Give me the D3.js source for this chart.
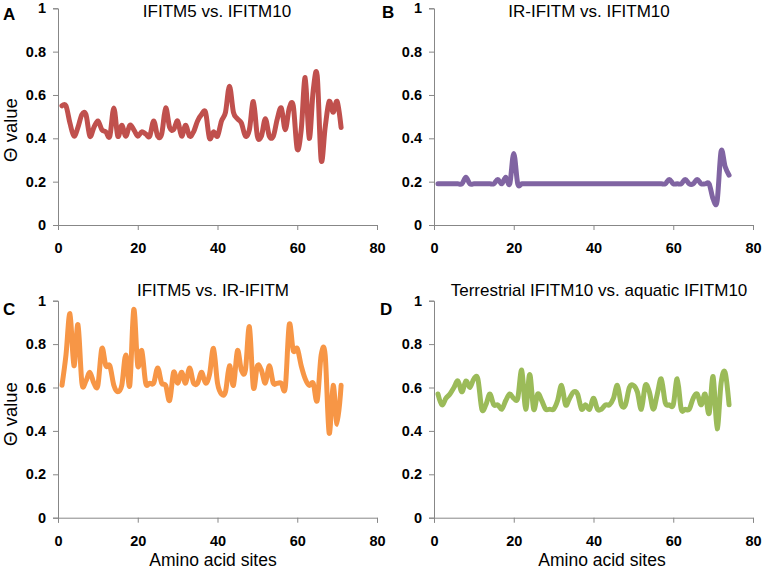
<!DOCTYPE html>
<html>
<head>
<meta charset="utf-8">
<script src="https://cdn.jsdelivr.net/npm/d3@7"></script>
<style>
  html, body { margin: 0; padding: 0; background: #fff; }
  svg { display: block; font-family: "Liberation Sans", Arial, sans-serif; }
</style>
</head>
<body>
<svg id="chart" width="764" height="571"></svg>
<script>
// ---- Data ----
const xTicks = [0, 20, 40, 60, 80];
const yTicks = [0, 0.2, 0.4, 0.6, 0.8, 1];
const yTickLabels = ["0", "0.2", "0.4", "0.6", "0.8", "1"];

const panelTitles = ["IFITM5 vs. IFITM10", "IR-IFITM vs. IFITM10", "IFITM5 vs. IR-IFITM", "Terrestrial IFITM10 vs. aquatic IFITM10"];
const panelLetters = ["A", "B", "C", "D"];
const seriesColors = ["#C0504D", "#8064A2", "#F79646", "#9BBB59"];

// Panel A: IFITM5 vs. IFITM10 (sites 1..71)
const thetaA = [0.55, 0.55, 0.47, 0.41, 0.45, 0.51, 0.51, 0.41, 0.45, 0.48,
                0.44, 0.43, 0.41, 0.54, 0.41, 0.46, 0.41, 0.46, 0.44, 0.41,
                0.43, 0.42, 0.41, 0.48, 0.41, 0.42, 0.54, 0.45, 0.44, 0.48,
                0.41, 0.46, 0.41, 0.43, 0.48, 0.51, 0.52, 0.40, 0.43, 0.41,
                0.48, 0.52, 0.64, 0.52, 0.49, 0.47, 0.41, 0.44, 0.57, 0.41,
                0.41, 0.49, 0.41, 0.41, 0.49, 0.54, 0.44, 0.54, 0.55, 0.35,
                0.44, 0.68, 0.40, 0.62, 0.69, 0.30, 0.45, 0.57, 0.52, 0.57,
                0.45];
// Panel B: IR-IFITM vs. IFITM10 (sites 1..74)
const thetaB = [0.19, 0.19, 0.19, 0.19, 0.19, 0.19, 0.19, 0.22, 0.19, 0.19,
                0.19, 0.19, 0.19, 0.19, 0.19, 0.21, 0.19, 0.22, 0.19, 0.33,
                0.19, 0.19, 0.19, 0.19, 0.19, 0.19, 0.19, 0.19, 0.19, 0.19,
                0.19, 0.19, 0.19, 0.19, 0.19, 0.19, 0.19, 0.19, 0.19, 0.19,
                0.19, 0.19, 0.19, 0.19, 0.19, 0.19, 0.19, 0.19, 0.19, 0.19,
                0.19, 0.19, 0.19, 0.19, 0.19, 0.19, 0.19, 0.19, 0.21, 0.19,
                0.19, 0.19, 0.21, 0.19, 0.19, 0.21, 0.19, 0.19, 0.19, 0.12,
                0.11, 0.34, 0.27, 0.23];
// Panel C: IFITM5 vs. IR-IFITM (sites 1..71)
const thetaC = [0.61, 0.75, 0.94, 0.70, 0.89, 0.62, 0.63, 0.67, 0.62, 0.61,
                0.78, 0.70, 0.70, 0.61, 0.58, 0.61, 0.75, 0.61, 0.96, 0.70,
                0.77, 0.62, 0.62, 0.62, 0.69, 0.62, 0.61, 0.54, 0.67, 0.62,
                0.67, 0.62, 0.69, 0.62, 0.62, 0.67, 0.62, 0.66, 0.78, 0.62,
                0.57, 0.58, 0.70, 0.61, 0.77, 0.68, 0.68, 0.88, 0.60, 0.70,
                0.68, 0.62, 0.70, 0.62, 0.62, 0.62, 0.60, 0.89, 0.77, 0.78,
                0.70, 0.64, 0.61, 0.62, 0.54, 0.75, 0.75, 0.39, 0.61, 0.43,
                0.61];
// Panel D: Terrestrial IFITM10 vs. aquatic IFITM10 (sites 1..74)
const thetaD = [0.57, 0.52, 0.55, 0.57, 0.60, 0.63, 0.58, 0.63, 0.60, 0.64,
                0.64, 0.50, 0.52, 0.57, 0.52, 0.52, 0.50, 0.54, 0.57, 0.55,
                0.55, 0.68, 0.50, 0.66, 0.50, 0.57, 0.54, 0.50, 0.50, 0.50,
                0.54, 0.61, 0.52, 0.55, 0.58, 0.57, 0.50, 0.52, 0.50, 0.55,
                0.50, 0.50, 0.52, 0.52, 0.55, 0.61, 0.52, 0.52, 0.60, 0.61,
                0.58, 0.50, 0.61, 0.58, 0.50, 0.57, 0.64, 0.53, 0.52, 0.52,
                0.64, 0.50, 0.50, 0.50, 0.55, 0.57, 0.52, 0.57, 0.48, 0.65,
                0.41, 0.62, 0.67, 0.52];

const seriesList = [thetaA, thetaB, thetaC, thetaD];

// ---- Layout ----
const svg = d3.select("#chart");
const panels = [
  { left: 58,  right: 377, top: 8.3,   bottom: 225,   titleX: 217, yLabel: true,  xLabel: false, yLabelY: 130 },
  { left: 434, right: 753, top: 8.3,   bottom: 225,   titleX: 589, yLabel: false, xLabel: false },
  { left: 58,  right: 377, top: 300.7, bottom: 517.7, titleX: 213, yLabel: true,  xLabel: true, yLabelY: 414, xLabelX: 213 },
  { left: 434, right: 753, top: 300.7, bottom: 517.7, titleX: 599, yLabel: false, xLabel: true, xLabelX: 602 }
];
const titleBaselines = [17, 17, 296, 296];
const letterPos = [[3, 20], [382, 18], [3, 315], [380, 315]];
const axisColor = "#878787";

panels.forEach((p, i) => {
  const data = seriesList[i].map((v, k) => ({ site: k + 1, v }));
  const x = d3.scaleLinear().domain([0, 80]).range([p.left, p.right]);
  const y = d3.scaleLinear().domain([0, 1]).range([p.bottom, p.top]);
  const g = svg.append("g");

  // Y axis
  const yAxis = g.append("g").attr("transform", `translate(${p.left},0)`)
    .call(d3.axisLeft(y).tickValues(yTicks).tickFormat((d, j) => yTickLabels[j]).tickSizeOuter(0).tickSize(5).tickPadding(7));
  // X axis
  const xAxis = g.append("g").attr("transform", `translate(0,${p.bottom})`)
    .call(d3.axisBottom(x).tickValues(xTicks).tickFormat(d3.format("d")).tickSizeOuter(0).tickSize(5).tickPadding(13));
  [yAxis, xAxis].forEach(ax => {
    ax.select(".domain").attr("stroke", axisColor).attr("stroke-width", 1);
    ax.selectAll(".tick line").attr("stroke", axisColor).attr("stroke-width", 1);
    ax.selectAll(".tick text")
      .attr("fill", "#000")
      .style("font-family", '"Liberation Sans", Arial, sans-serif')
      .style("font-size", "14.5px")
      .style("font-weight", "bold");
  });

  // Line
  const line = d3.line()
    .x(d => x(d.site))
    .y(d => y(d.v))
    .curve(d3.curveCardinal.tension(0));
  g.append("path")
    .datum(data)
    .attr("fill", "none")
    .attr("stroke", seriesColors[i])
    .attr("stroke-width", 5)
    .attr("stroke-linejoin", "round")
    .attr("stroke-linecap", "round")
    .attr("d", line);

  // Title
  g.append("text")
    .attr("x", p.titleX).attr("y", titleBaselines[i])
    .attr("text-anchor", "middle")
    .style("font-size", "17px")
    .attr("fill", "#000")
    .text(panelTitles[i]);

  // Panel letter
  g.append("text")
    .attr("x", letterPos[i][0]).attr("y", letterPos[i][1])
    .style("font-size", "17px").style("font-weight", "bold")
    .attr("fill", "#000")
    .text(panelLetters[i]);

  if (p.yLabel) {
    g.append("text")
      .attr("transform", `translate(17,${p.yLabelY}) rotate(-90)`)
      .attr("text-anchor", "middle")
      .style("font-size", "18.5px")
      .attr("fill", "#000")
      .text("Θ value");
  }
  if (p.xLabel) {
    g.append("text")
      .attr("x", p.xLabelX).attr("y", 566)
      .attr("text-anchor", "middle")
      .style("font-size", "17.5px")
      .attr("fill", "#000")
      .text("Amino acid sites");
  }
});
</script>
</body>
</html>
